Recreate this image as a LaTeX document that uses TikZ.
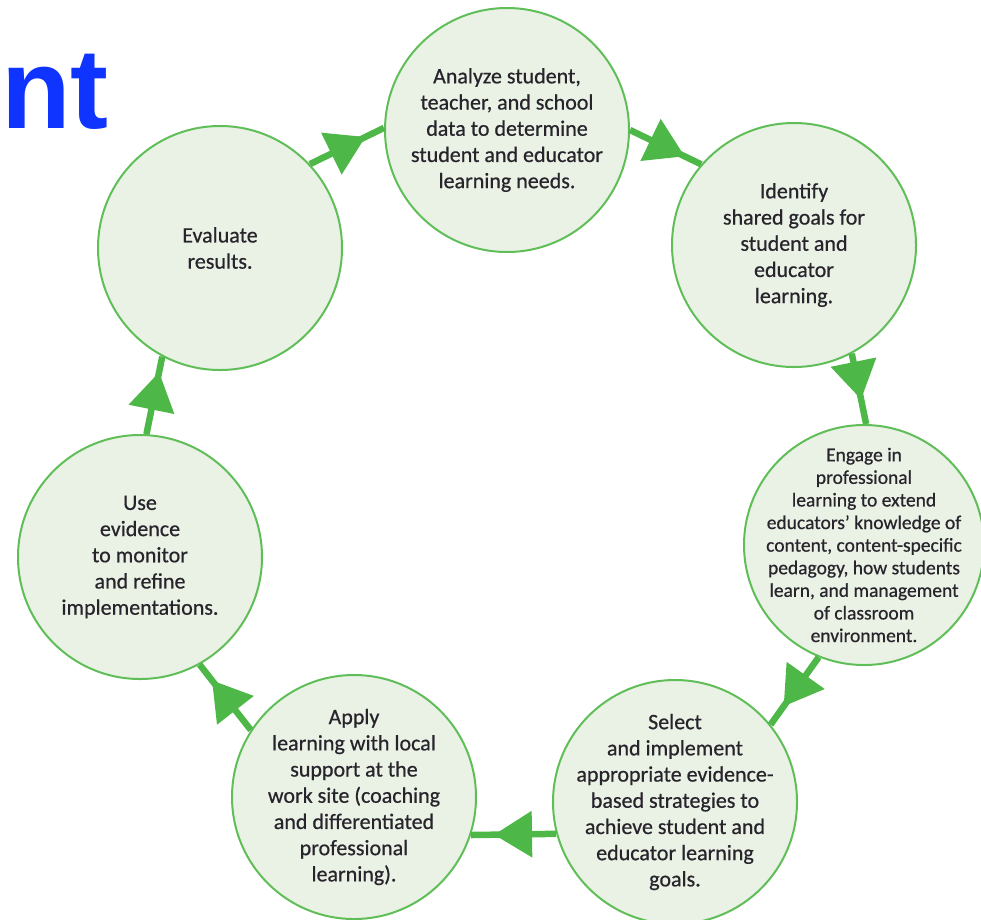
\documentclass[tikz,border=0pt]{standalone}
\usepackage{fontspec}
\setmainfont{Carlito}[FakeBold=0.6]
\newfontfamily\titlefont{Liberation Sans}
\usetikzlibrary{arrows.meta,decorations.markings}

\definecolor{cyclegreen}{RGB}{77,184,72}
\definecolor{cycleline}{RGB}{96,190,88}
\definecolor{cyclefill}{RGB}{234,242,230}
\definecolor{cycletext}{RGB}{40,36,44}
\definecolor{titleblue}{RGB}{16,52,255}

\begin{document}
\begin{tikzpicture}[x=1pt,y=-1pt,
    stage/.style={draw=cycleline,fill=cyclefill,line width=2pt,circle,
      minimum size=244pt,inner sep=-40pt,align=center,text=cycletext,
      font=\fontsize{22}{26.2}\selectfont},
    flow/.style={draw=cyclegreen,line width=6.5pt,postaction={decorate},
      decoration={markings,mark=at position #1 with
        {\arrow{Triangle[length=38pt,width=45pt]}}}}]
  \useasboundingbox (0,0) rectangle (981,919);
  \clip (0,0) rectangle (981,919);

  % title fragment
  \node[anchor=base west,inner sep=0pt,text=titleblue,
        font=\titlefont\bfseries\fontsize{114}{114}\selectfont] (title) at (1,128) {nt};

  % the seven steps of the cycle
  \node[stage] (analyze) at (507,130) {Analyze student,\\teacher, and school\\data to determine\\student and educator\\learning needs.};
  \node[stage] (identify) at (794,245) {Identify\\shared goals for\\student and\\educator\\learning.};
  \node[stage,minimum size=240pt,font=\fontsize{19.5}{22.6}\selectfont] (engage) at (864,545) {Engage in\\professional\\learning to extend\\educators’ knowledge of\\content, content-specific\\pedagogy, how students\\learn, and management\\of classroom\\environment.};
  \node[stage] (select) at (675,802) {Select\\and implement\\appropriate evidence-\\based strategies to\\achieve student and\\educator learning\\goals.};
  \node[stage] (apply) at (354,797) {Apply\\learning with local\\support at the\\work site (coaching\\and differentiated\\professional\\learning).};
  \node[stage] (use) at (140,557) {Use\\evidence\\to monitor\\and refine\\implementations.};
  \node[stage] (evaluate) at (220,248) {Evaluate\\results.};

  % connectors
  \draw[flow=0.75] (evaluate.43) -- (analyze.179);
  \draw[flow=0.77] (analyze.0) -- (identify.139);
  \draw[flow=0.65] (identify.-62) -- (engage.89);
  \draw[flow=0.73] (engage.-112) -- (select.39);
  \draw[flow=0.73] (select.-165) -- (apply.-18);
  \draw[flow=0.76] (apply.147) -- (use.-61);
  \draw[flow=0.8] (use.87) -- (evaluate.-118);
\end{tikzpicture}
\end{document}
